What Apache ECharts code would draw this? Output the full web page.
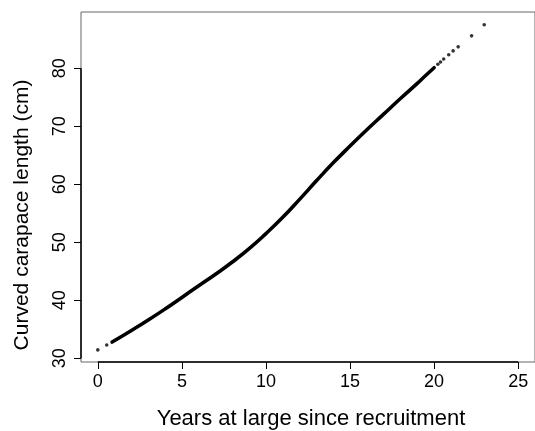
<!DOCTYPE html>
<html>
<head>
<meta charset="utf-8">
<script src="https://cdn.jsdelivr.net/npm/echarts@6/dist/echarts.min.js"></script>
<style>
  html, body { margin: 0; padding: 0; background: #fff; }
  #chart { width: 535px; height: 431px; }
</style>
</head>
<body>
<div id="chart"></div>
<script>
// Growth curve: years at large vs curved carapace length (cm)
const denseYears   = [0.85, 2, 3, 4, 5, 6, 7, 8, 9, 10, 11, 12, 13, 14, 15, 16, 17, 18, 19, 19.4, 20.0];
const denseLengths = [32.8, 34.8, 36.6, 38.5, 40.5, 42.5, 44.5, 46.6, 48.9, 51.5, 54.3, 57.4, 60.6, 63.7, 66.6, 69.4, 72.1, 74.8, 77.4, 78.5, 80.1];

// isolated individuals at both ends of the range
const sparseYears   = [0.0, 0.53, 20.22, 20.38, 20.57, 20.87, 21.13, 21.43, 22.23, 22.98];
const sparseLengths = [31.45, 32.3, 80.7, 81.1, 81.6, 82.35, 83.0, 83.7, 85.6, 87.5];

const xTicks = [0, 5, 10, 15, 20, 25];
const yTicks = [30, 40, 50, 60, 70, 80];

const xTitle = 'Years at large since recruitment';
const yTitle = 'Curved carapace length (cm)';

const xRange = [-1, 26];
const yRange = [29.36, 89.71];

const FONT = "'Liberation Sans', Arial, Helvetica, sans-serif";

const chart = echarts.init(document.getElementById('chart'), null, { renderer: 'canvas' });

const axisCommon = {
  axisLine: { show: false, onZero: false },
  splitLine: { show: false },
  axisTick: { show: true, inside: false, length: 7, lineStyle: { color: '#000', width: 1 } },
  axisLabel: { color: '#000', fontFamily: FONT, fontSize: 18 }
};

chart.setOption({
  animation: false,
  backgroundColor: '#fff',
  grid: {
    left: 81, top: 12, width: 457, height: 350,
    show: true, borderColor: '#666', borderWidth: 1, backgroundColor: 'transparent'
  },
  xAxis: {
    type: 'value', min: xRange[0], max: xRange[1],
    ...axisCommon,
    axisTick: { ...axisCommon.axisTick, customValues: xTicks },
    axisLabel: { ...axisCommon.axisLabel, customValues: xTicks, margin: 11 }
  },
  yAxis: {
    type: 'value', min: yRange[0], max: yRange[1],
    ...axisCommon,
    axisTick: { ...axisCommon.axisTick, customValues: yTicks },
    axisLabel: { ...axisCommon.axisLabel, customValues: yTicks, rotate: 90, margin: 12 }
  },
  graphic: [
    {
      type: 'text', x: 311, y: 419,
      style: { text: xTitle, font: '22px ' + FONT, fill: '#000', textAlign: 'center', textVerticalAlign: 'middle' }
    },
    {
      type: 'text', x: 22, y: 215, rotation: Math.PI / 2,
      style: { text: yTitle, font: '21px ' + FONT, fill: '#000', textAlign: 'center', textVerticalAlign: 'middle' }
    }
  ],
  series: [
    {
      type: 'line',
      data: denseYears.map((x, i) => [x, denseLengths[i]]),
      smooth: 0.5,
      showSymbol: false,
      clip: false,
      lineStyle: { color: '#000', width: 3.6, cap: 'round', join: 'round' },
      markLine: {
        silent: true,
        symbol: 'none',
        label: { show: false },
        lineStyle: { color: '#000', width: 1.5, type: 'solid' },
        data: [
          [{ coord: [xTicks[0], yRange[0]] }, { coord: [xTicks[xTicks.length - 1], yRange[0]] }],
          [{ coord: [xRange[0], yTicks[0]] }, { coord: [xRange[0], yTicks[yTicks.length - 1]] }]
        ]
      }
    },
    {
      type: 'scatter',
      data: sparseYears.map((x, i) => [x, sparseLengths[i]]),
      symbol: 'circle',
      symbolSize: 3.6,
      clip: false,
      itemStyle: { color: '#000' }
    }
  ]
});
</script>
</body>
</html>
